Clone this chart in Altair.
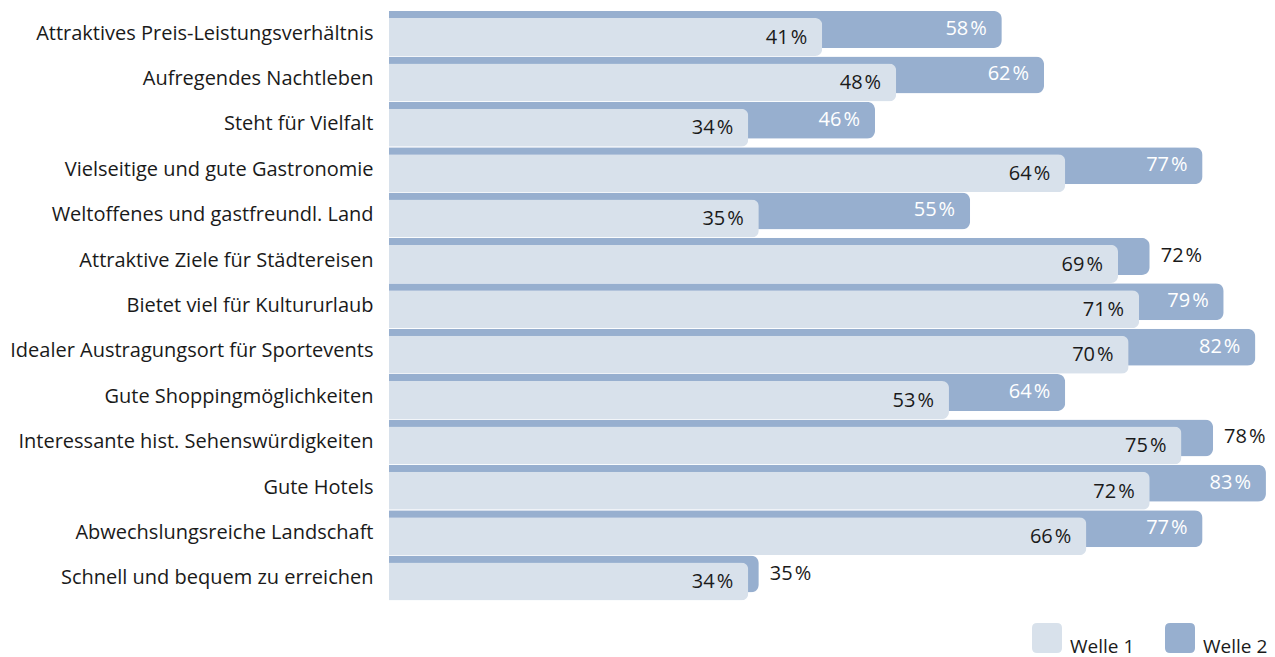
import altair as alt
import pandas as pd

categories = [
    "Attraktives Preis-Leistungsverhältnis",
    "Aufregendes Nachtleben",
    "Steht für Vielfalt",
    "Vielseitige und gute Gastronomie",
    "Weltoffenes und gastfreundl. Land",
    "Attraktive Ziele für Städtereisen",
    "Bietet viel für Kultururlaub",
    "Idealer Austragungsort für Sportevents",
    "Gute Shoppingmöglichkeiten",
    "Interessante hist. Sehenswürdigkeiten",
    "Gute Hotels",
    "Abwechslungsreiche Landschaft",
    "Schnell und bequem zu erreichen",
]
welle1 = [41, 48, 34, 64, 35, 69, 71, 70, 53, 75, 72, 66, 34]
welle2 = [58, 62, 46, 77, 55, 72, 79, 82, 64, 78, 83, 77, 35]
series = ["Welle 1", "Welle 2"]

LIGHT = "#D8E1EB"
DARK = "#97AFCF"
TXT = "#1a1a1a"
FONT = "Open Sans"
FS = 20

df = pd.DataFrame({"Kategorie": categories, "Welle 1": welle1, "Welle 2": welle2})

xs = alt.Scale(domain=[0, 83.1], nice=False, zero=True)
cs = alt.Scale(domain=series, range=[LIGHT, DARK])

Y = alt.Y(
    "Kategorie:N",
    sort=categories,
    scale=alt.Scale(paddingInner=0, paddingOuter=0),
    axis=alt.Axis(
        title=None, domain=False, ticks=False, grid=False,
        labelFont=FONT, labelFontSize=FS, labelColor=TXT,
        labelPadding=16, labelLimit=400,
    ),
)

rounded = "M -0.66 -1 L 0.66 -1 Q 1 -1 1 -0.66 L 1 0.66 Q 1 1 0.66 1 L -0.66 1 Q -1 1 -1 0.66 L -1 -0.66 Q -1 -1 -0.66 -1 Z"
leg = alt.Legend(
    title=None, orient="none", legendX=643, legendY=612, direction="horizontal",
    symbolType=rounded, symbolSize=900, symbolStrokeWidth=0, symbolOpacity=1,
    labelFont=FONT, labelFontSize=19, labelColor=TXT, labelOffset=8,
    labelBaseline="top", columnPadding=30, padding=0, labelLimit=200,
)

base = alt.Chart(df)

dark = base.transform_fold(["Welle 2"], as_=["Welle", "Wert"]).mark_bar(
    height=37, yOffset=-4.2, cornerRadiusTopRight=8, cornerRadiusBottomRight=8
).encode(
    y=Y,
    x=alt.X("Wert:Q", scale=xs, axis=None),
    color=alt.Color("Welle:N", scale=cs, legend=leg),
)

light = base.transform_fold(["Welle 1"], as_=["Welle", "Wert"]).mark_bar(
    height=38, yOffset=3.3, cornerRadiusTopRight=7, cornerRadiusBottomRight=7
).encode(
    y=Y,
    x=alt.X("Wert:Q", scale=xs, axis=None),
    color=alt.Color("Welle:N", scale=cs, legend=leg),
)

lab1 = base.transform_calculate(
    label="format(datum['Welle 1'], 'd') + '\u200a%'"
).mark_text(
    align="right", baseline="middle", dx=-15, yOffset=4.0,
    font=FONT, fontSize=FS, color=TXT,
).encode(y=Y, x=alt.X("Welle 1:Q", scale=xs, axis=None), text="label:N")

lab2_in = base.transform_calculate(
    label="format(datum['Welle 2'], 'd') + '\u200a%'",
    diff="datum['Welle 2'] - datum['Welle 1']",
).transform_filter("datum.diff >= 5").mark_text(
    align="right", baseline="middle", dx=-15, yOffset=-4.8,
    font=FONT, fontSize=FS, color="#ffffff",
).encode(y=Y, x=alt.X("Welle 2:Q", scale=xs, axis=None), text="label:N")

lab2_out = base.transform_calculate(
    label="format(datum['Welle 2'], 'd') + '\u200a%'",
    diff="datum['Welle 2'] - datum['Welle 1']",
).transform_filter("datum.diff < 5").mark_text(
    align="left", baseline="middle", dx=11, yOffset=-4.8,
    font=FONT, fontSize=FS, color=TXT,
).encode(y=Y, x=alt.X("Welle 2:Q", scale=xs, axis=None), text="label:N")

chart = alt.layer(dark, light, lab1, lab2_in, lab2_out).properties(
    width=878, height=590,
    autosize=alt.AutoSizeParams(type="none"),
    padding={"left": 381, "top": 3, "right": 0, "bottom": 57},
).configure_view(stroke=None)

chart.save("out.html", embed_options={"renderer": "svg", "actions": False})
